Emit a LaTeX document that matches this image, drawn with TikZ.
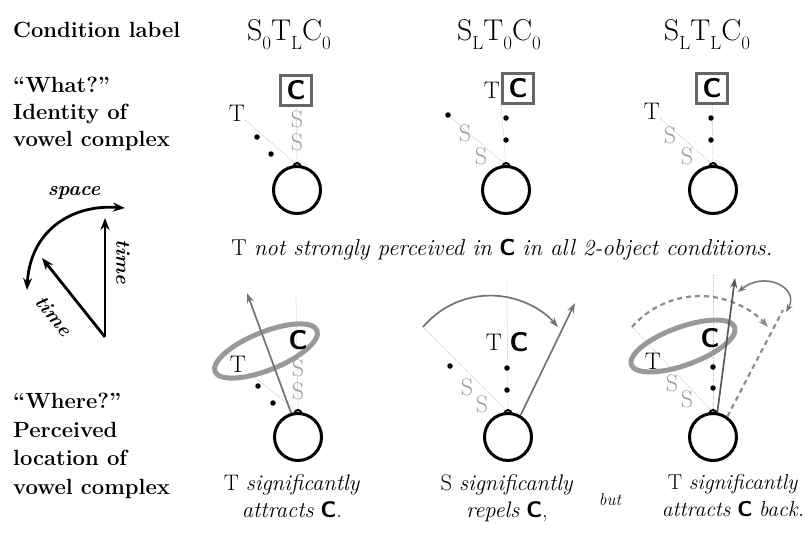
\documentclass[tikz,border=0pt]{standalone}
\usepackage{fontspec}
\usetikzlibrary{positioning, arrows.meta, backgrounds}
\tikzstyle{every node}=[inner sep=0pt]
\tikzstyle{rowlab}=[anchor=north west, align=left, font=\fontsize{22}{27}\selectfont\bfseries]
\tikzstyle{cond}=[anchor=base, font=\fontsize{30}{30}\selectfont]
\tikzstyle{vowel}=[draw, circle, line width=3pt, minimum size=47pt]
\tikzstyle{cbox}=[draw=black!60, line width=3pt, minimum width=31pt, minimum height=30pt, font=\bigC]
\tikzstyle{glyph}=[font=\fontsize{24}{24}\selectfont]
\tikzstyle{sglyph}=[glyph, text=black!40]
\tikzstyle{cglyph}=[font=\bigC]
\tikzstyle{dot}=[fill, circle, minimum size=5.5pt]
\tikzstyle{faint}=[black!25, densely dotted, line width=0.7pt]
\tikzstyle{moved}=[black!55, line width=1.7pt, -{Stealth[length=10pt,width=7pt]}]
\tikzstyle{halo}=[black!40, line width=5pt]
\tikzstyle{caption}=[align=center, font=\fontsize{22.5}{27}\selectfont]
\tikzstyle{icon}=[line width=2.8pt, -{Stealth[length=12pt,width=9pt]}]
\tikzstyle{iconlab}=[font=\fontsize{20}{20}\selectfont\bfseries\itshape]
\newcommand{\bigC}{\fontsize{27}{27}\selectfont\sffamily\bfseries}
\newcommand{\lowsub}[1]{\raisebox{-0.3em}{\fontsize{19}{19}\selectfont #1}}
\newcommand{\Cb}{{\sffamily\bfseries C}}
\newcommand{\nub}[1]{\draw[line width=2pt] ([xshift=-3.5pt,yshift=-1.5pt]#1.north) arc (180:0:3.5pt);}

\begin{document}
\begin{tikzpicture}[x=1pt, y=-1pt]
    \useasboundingbox (0,0) rectangle (809,539);
    % row labels
    \node[rowlab, anchor=base west] (condlab) at (13,37) {Condition label};
    \node[rowlab] (whatlab) at (13,77) {``What?''\\Identity of\\vowel complex};
    \node[rowlab, font=\fontsize{22}{28.5}\selectfont\bfseries] (wherelab) at (13,393) {``Where?''\\Perceived\\location of\\vowel complex};
    % condition labels
    \node[cond] (h1) at (289,40) {S\lowsub{0}T\lowsub{L}C\lowsub{0}};
    \node[cond] (h2) at (499,40) {S\lowsub{L}T\lowsub{0}C\lowsub{0}};
    \node[cond] (h3) at (707,40) {S\lowsub{L}T\lowsub{L}C\lowsub{0}};

    % space / time key
    \coordinate (k0) at (105,337);
    \coordinate (kup) at (105,218);
    \coordinate (kdiag) at (42,258);
    \coordinate (ka) at (27,290);
    \coordinate (kb) at (125,208);
    \draw[icon] (k0) -- (kup);
    \draw[icon] (k0) -- (kdiag);
    \draw[icon, {Stealth[length=12pt,width=9pt]}-{Stealth[length=12pt,width=9pt]}] (ka) .. controls (30,232) and (70,204) .. (kb);
    \node[iconlab] (space) at (74,193) {space};
    \node[iconlab, rotate=-90] (time1) at (123,262) {time};
    \node[iconlab, rotate=-51] (time2) at (54,316) {time};

    % "what?" row
    \node[vowel] (v1) at (297,190) {};
    \node[cbox] (c1) at (296,90) {C};
    \node[sglyph] (s1a) at (297,119) {S};
    \node[sglyph] (s1b) at (297,142) {S};
    \node[glyph] (t1) at (237,113) {T};
    \node[dot] (d1a) at (257,137) {};
    \node[dot] (d1b) at (271,154) {};
    \nub{v1}

    \node[vowel] (v2) at (506,190) {};
    \node[cbox] (c2) at (518,88) {C};
    \node[glyph] (t2) at (492,90) {T};
    \node[dot] (d2a) at (506,118) {};
    \node[dot] (d2b) at (506,140) {};
    \node[dot] (d2c) at (448,115) {};
    \node[sglyph] (s2a) at (465,133) {S};
    \node[sglyph] (s2b) at (481,156) {S};
    \nub{v2}

    \node[vowel] (v3) at (713,190) {};
    \node[cbox] (c3) at (712,88) {C};
    \node[glyph] (t3) at (652,111) {T};
    \node[sglyph] (s3a) at (670,135) {S};
    \node[sglyph] (s3b) at (687,156) {S};
    \node[dot] (d3a) at (711,118) {};
    \node[dot] (d3b) at (711,140) {};
    \nub{v3}

    \node[caption, font=\fontsize{23}{27}\selectfont] (note) at (502,250) {T \textit{not strongly perceived in} \Cb\ \textit{in all 2-object conditions.}};

    % "where?" row
    \node[vowel] (v4) at (298,437) {};
    \draw[halo, rotate around={22:(266,351)}] (266,351) ellipse (55 and 19);
    \node[glyph] (t4) at (238,364) {T};
    \node[cglyph] (c4) at (298,340) {C};
    \node[sglyph] (s4a) at (298,368) {S};
    \node[sglyph] (s4b) at (298,391) {S};
    \node[dot] (d4a) at (258,386) {};
    \node[dot] (d4b) at (273,403) {};
    \coordinate (top4) at (296,298);
    \coordinate (a4) at (247,293);
    \draw[moved] (v4.106) -- (a4);
    \nub{v4}

    \node[vowel] (v5) at (508,437) {};
    \node[glyph] (t5) at (494,342) {T};
    \node[cglyph] (c5) at (519,342) {C};
    \node[dot] (d5a) at (507,368) {};
    \node[dot] (d5b) at (507,390) {};
    \node[dot] (d5c) at (450,366) {};
    \node[sglyph] (s5a) at (467,387) {S};
    \node[sglyph] (s5b) at (482,404) {S};
    \coordinate (top5) at (507,283);
    \coordinate (r5) at (423,327);
    \coordinate (a5) at (575,303);
    \draw[moved] (r5) arc (140:40:88pt);
    \draw[moved] (v5.60) -- (a5);
    \nub{v5}

    \node[vowel] (v6) at (713,437) {};
    \draw[halo, rotate around={20:(683,346)}] (683,346) ellipse (55 and 19);
    \node[glyph] (t6) at (653,361) {T};
    \node[cglyph] (c6) at (710,338) {C};
    \node[sglyph] (s6a) at (672,383) {S};
    \node[sglyph] (s6b) at (687,399) {S};
    \node[dot] (d6a) at (713,367) {};
    \node[dot] (d6b) at (713,388) {};
    \coordinate (top6) at (713,275);
    \coordinate (r6) at (632,327);
    \coordinate (a6) at (735,278);
    \coordinate (b6) at (783,310);
    \coordinate (k6a) at (738,292);
    \coordinate (k6b) at (786,312);
    \draw[moved, black!45, dash pattern=on 5pt off 4pt, line width=2.2pt] (r6) arc (139:41:90pt);
    \draw[moved, black!45, -, dash pattern=on 5pt off 4pt, line width=2.2pt] (v6.55) -- (b6);
    \draw[moved, black!65] (v6.80) -- (a6);
    \draw[moved, line width=1.5pt, {Stealth[length=8pt,width=6pt]}-{Stealth[length=8pt,width=6pt]}] (k6a) .. controls (765,270) and (800,288) .. (k6b);
    \nub{v6}

    \begin{scope}[on background layer]
        \draw[faint] (t1) -- (v1.north);
        \draw[faint] (c1) -- (v1.north);
        \draw[faint] (d2c) -- (v2.north);
        \draw[faint] (c2.south west) -- (v2.north);
        \draw[faint] (t3) -- (v3.north);
        \draw[faint] (c3) -- (v3.north);
        \draw[faint] (t4) -- (v4.north);
        \draw[faint] (top4) -- (v4.north);
        \draw[faint] (r5) -- (v5.north);
        \draw[faint] (top5) -- (v5.north);
        \draw[faint] (r6) -- (v6.north);
        \draw[faint] (top6) -- (v6.north);
    \end{scope}

    % captions
    \node[caption, anchor=north] (cap1) at (292,474) {T \textit{significantly}\\\textit{attracts} \Cb.};
    \node[caption, anchor=north] (cap2) at (507,474) {S \textit{significantly}\\\textit{repels} \Cb,};
    \node[caption, anchor=north, font=\fontsize{21.5}{27}\selectfont] (cap3) at (733,474) {T \textit{significantly}\\\textit{attracts} \Cb\ \textit{back.}};
    \node[font=\fontsize{17}{17}\selectfont\itshape] (but) at (610,500) {but};
\end{tikzpicture}
\end{document}
